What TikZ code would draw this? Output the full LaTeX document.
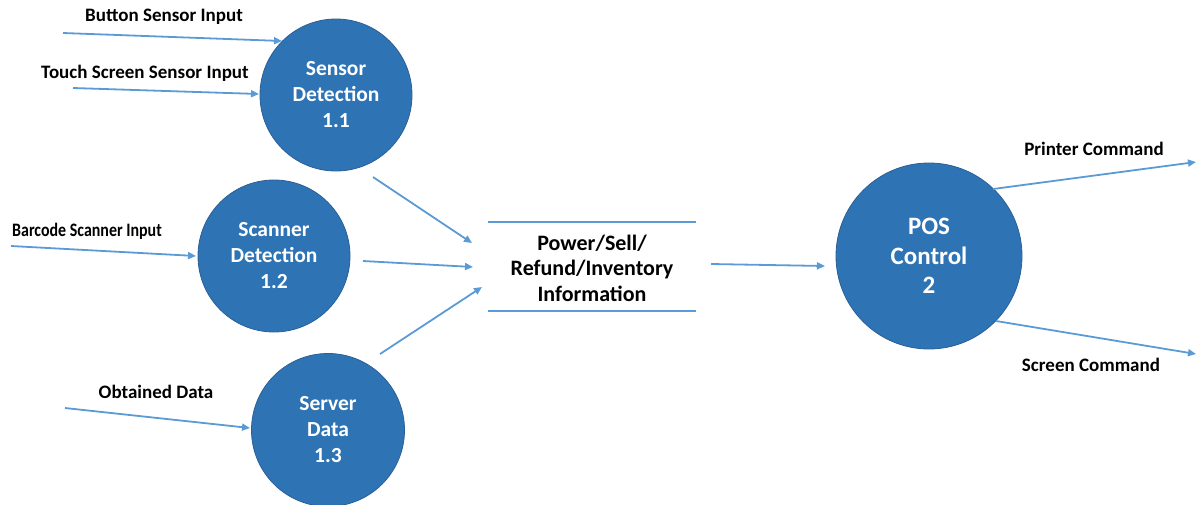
\documentclass[tikz,border=0pt]{standalone}
\usepackage{fontspec}
\setmainfont{Carlito}
\usetikzlibrary{arrows.meta}
\definecolor{procfill}{HTML}{2E74B5}
\definecolor{procdraw}{HTML}{2A5E96}
\definecolor{flow}{HTML}{5B9BD5}
\begin{document}
\begin{tikzpicture}[x=1pt,y=-1pt,
  proc/.style={circle,fill=procfill,draw=procdraw,line width=0.8pt,text=white,
    font=\bfseries\fontsize{21.5}{26}\selectfont,align=center,inner sep=0pt},
  lbl/.style={font=\bfseries\fontsize{19}{22}\selectfont,text=black,inner sep=0pt},
  flowline/.style={draw=flow,line width=1.8pt,-{Triangle[length=8pt,width=7pt]}},
  storeline/.style={draw=flow,line width=1.8pt}]
\useasboundingbox (0,0) rectangle (1198,504);
% processes
\node[proc,minimum size=152pt] (p11) at (336,95) {Sensor\\Detection\\1.1};
\node[proc,minimum size=152pt] (p12) at (274,256) {Scanner\\Detection\\1.2};
\node[proc,minimum size=153pt] (p13) at (328,430) {Server\\Data\\1.3};
\node[proc,minimum size=186pt,font=\bfseries\fontsize{25}{29.5}\selectfont] (p2) at (929,256) {POS\\Control\\2};
% data store
\coordinate (stl) at (488,222);
\coordinate (str) at (696,222);
\coordinate (sbl) at (488,311);
\coordinate (sbr) at (696,311);
\draw[storeline] (stl) -- (str);
\draw[storeline] (sbl) -- (sbr);
\node[font=\bfseries\fontsize{22}{25.5}\selectfont,align=center,inner sep=0pt] (store) at (592,268) {Power/Sell/\\Refund/Inventory\\Information};
% labels
\node[lbl] (lbtn) at (164,17) {Button Sensor Input};
\node[lbl] (ltouch) at (145,73) {Touch Screen Sensor Input};
\node[lbl,xscale=0.84] (lbar) at (87,231) {Barcode Scanner Input};
\node[lbl] (lobt) at (156,392) {Obtained Data};
\node[lbl] (lprn) at (1094,149) {Printer Command};
\node[lbl] (lscr) at (1091,365) {Screen Command};
% coordinates for flows
\coordinate (a1s) at (63,33);   \coordinate (a1e) at (282,41);
\coordinate (a2s) at (73,88);   \coordinate (a2e) at (259,94);
\coordinate (a3s) at (11,246);  \coordinate (a3e) at (196,256);
\coordinate (a4s) at (65,408);  \coordinate (a4e) at (250,428);
\coordinate (b1s) at (373,177); \coordinate (b1e) at (472,243);
\coordinate (b2s) at (363,261); \coordinate (b2e) at (473,267);
\coordinate (b3s) at (380,354); \coordinate (b3e) at (482,287);
\coordinate (cs) at (711,264);  \coordinate (ce) at (825,266);
\coordinate (d1s) at (993,189); \coordinate (d1e) at (1196,162);
\coordinate (d2s) at (996,321); \coordinate (d2e) at (1196,354);
\draw[flowline] (a1s) -- (a1e);
\draw[flowline] (a2s) -- (a2e);
\draw[flowline] (a3s) -- (a3e);
\draw[flowline] (a4s) -- (a4e);
\draw[flowline] (b1s) -- (b1e);
\draw[flowline] (b2s) -- (b2e);
\draw[flowline] (b3s) -- (b3e);
\draw[flowline] (cs) -- (ce);
\draw[flowline] (d1s) -- (d1e);
\draw[flowline] (d2s) -- (d2e);
\end{tikzpicture}
\end{document}
